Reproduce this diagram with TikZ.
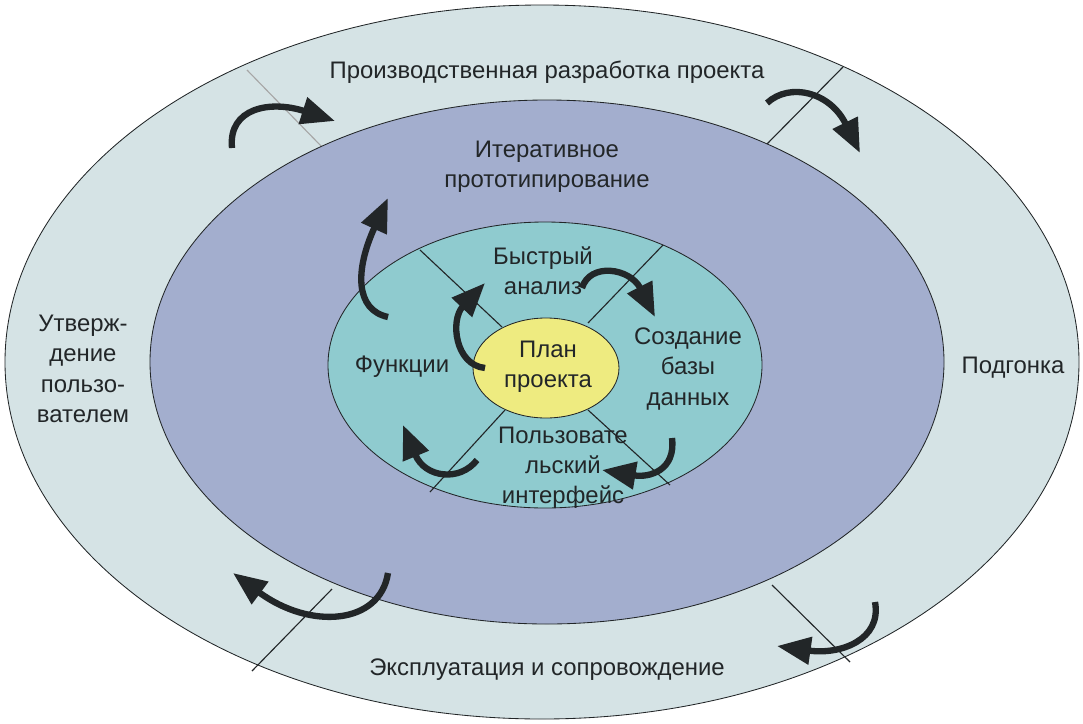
\documentclass[tikz,border=0pt]{standalone}
\usepackage{fontspec}
\setmainfont{Liberation Sans}
\usetikzlibrary{arrows.meta}
\definecolor{ringout}{HTML}{D5E3E5}
\definecolor{ringmid}{HTML}{A3AECE}
\definecolor{ringin}{HTML}{8FCBCF}
\definecolor{plancol}{HTML}{EEEB80}
\definecolor{inkc}{HTML}{222628}
\begin{document}
\begin{tikzpicture}[x=0.025cm, y=-0.025cm,
  turn/.style={line width=4.5pt, draw=inkc, -{Triangle[length=24pt,width=19pt]}},
  lbl/.style={text=inkc, font=\fontsize{17}{21.5}\selectfont, align=center, inner sep=0pt},
  split/.style={draw=inkc, line width=0.8pt}]
\useasboundingbox (0,0) rectangle (1083,723);

\filldraw [fill=ringout, draw=inkc, line width=0.6pt] (542,362) ellipse [x radius=537, y radius=357];
\draw [split, draw=gray!70] (247,70) -- (323,148);
\draw [split] (843,67) -- (765,146);
\draw [split] (332,589) -- (252,671);
\draw [split] (772,585) -- (850,662);

\filldraw [fill=ringmid, draw=inkc, line width=0.6pt] (547,362) ellipse [x radius=397, y radius=262];
\filldraw [fill=ringin, draw=inkc, line width=0.6pt] (545,365) ellipse [x radius=217, y radius=143];
\draw [split] (420,250) -- (502,327);
\draw [split] (663,245) -- (588,323);
\draw [split] (505,410) -- (430,492);
\draw [split] (588,410) -- (670,485);
\filldraw [fill=plancol, draw=inkc, line width=0.6pt] (546,368) ellipse [x radius=73, y radius=50];

\node [lbl] (prod) at (547,72) {Производственная разработка проекта};
\node [lbl] (iter) at (547,167) {Итеративное\\прототипирование};
\node [lbl] (fast) at (543,271) {Быстрый\\анализ};
\node [lbl] (base) at (688,369) {Создание\\базы\\данных};
\node [lbl] (func) at (402,367) {Функции};
\node [lbl] (plan) at (548,367) {План\\проекта};
\node [lbl] (ui) at (563,468) {Пользовате\\льский\\интерфейс};
\node [lbl] (user) at (83,369) {Утверж-\\дение\\пользо-\\вателем};
\node [lbl] (fit) at (1013,368) {Подгонка};
\node [lbl] (oper) at (547,670) {Эксплуатация и сопровождение};

\draw [turn] (232,148) .. controls (228,108) and (270,100) .. (335,121);
\draw [turn] (767,103) .. controls (790,82) and (830,92) .. (860,153);
\draw [turn] (388,317) .. controls (355,310) and (355,270) .. (388,198);
\draw [turn] (485,368) .. controls (455,365) and (450,320) .. (485,283);
\draw [turn] (582,288) .. controls (590,262) and (630,268) .. (655,317);
\draw [turn] (672,438) .. controls (676,470) and (650,478) .. (602,470);
\draw [turn] (477,460) .. controls (460,482) and (425,478) .. (403,425);
\draw [turn] (388,573) .. controls (380,625) and (310,630) .. (233,573);
\draw [turn] (875,602) .. controls (882,640) and (840,655) .. (777,646);
\end{tikzpicture}
\end{document}
